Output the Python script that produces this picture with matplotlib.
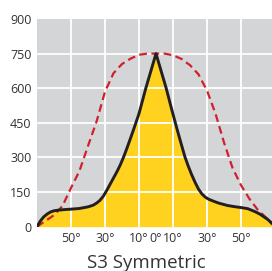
import matplotlib
matplotlib.use('Agg')
import matplotlib.pyplot as plt

# beam angle (deg) and intensity
black_x = [-70, -68, -66, -64, -62, -60, -57, -54, -50, -45, -40, -37, -35, -33, -31, -29, -27, -25,
           -23, -21, -19, -17, -15, -13, -10, -6, -3, 0,
           3, 6, 9, 12, 14, 17, 19, 21, 23, 25, 27, 29, 31, 34, 37, 42, 46, 50, 54, 58, 61, 63,
           66, 68, 70]
black_y = [0, 25, 43, 55, 64, 69, 72, 74, 76, 79, 86, 93, 102, 114, 132, 157, 184, 211,
           238, 268, 303, 342, 383, 425, 490, 600, 675, 750,
           675, 600, 515, 433, 380, 303, 262, 225, 192, 163, 142, 128, 119, 110, 102, 92, 87, 83, 78,
           66, 55, 45, 30, 15, 5]

red_x = [-70, -65, -60, -55, -50, -45, -40, -35, -30, -25, -20, -15, -10, -5, 0,
         5, 10, 15, 20, 25, 30, 35, 40, 45, 50, 55, 60, 65, 70]
red_y = [0, 25, 50, 90, 168, 242, 350, 455, 585, 665, 705, 728, 745, 750, 750,
         750, 743, 727, 700, 660, 590, 490, 365, 255, 180, 120, 72, 38, 5]

xticks = [-50, -30, -10, 0, 10, 30, 50]
xtick_labels = ['50°', '30°', '10°', '0°', '10°', '30°', '50°']
yticks = [0, 150, 300, 450, 600, 750, 900]

plt.rcParams['font.family'] = ['Open Sans', 'DejaVu Sans']

fig = plt.figure(figsize=(2.72, 2.71), dpi=100)
ax = fig.add_axes([37 / 272, 44.3 / 271, 238 / 272, 207.7 / 271])
ax.set_facecolor('#d4d5d6')

ax.fill_between(black_x, black_y, 0, color='#ffd21f', lw=0, zorder=1)
for v in [-50, -30, -10, 10, 30, 50]:
    ax.axvline(v, color='white', lw=1.3, zorder=2)
for v in [150, 300, 450, 600, 750]:
    ax.axhline(v, color='white', lw=1.3, zorder=2)
ax.plot(red_x, red_y, color='#d0202e', lw=1.6, dashes=(3.5, 2.0), zorder=3)
ax.plot(black_x, black_y, color='#231f20', lw=2.1, zorder=4, solid_joinstyle='round')

ax.set_xlim(-70, 70)
ax.set_ylim(0, 900)
ax.set_xticks(xticks)
ax.set_xticklabels(xtick_labels)
ax.set_yticks(yticks)
ax.tick_params(length=0, labelsize=9, colors='#333333', pad=4)
for s in ax.spines.values():
    s.set_visible(False)

fig.text(146 / 272, 8 / 271, 'S3 Symmetric', ha='center', va='center', fontsize=13.5, color='#333333')

fig.savefig('out.png', dpi=100)
